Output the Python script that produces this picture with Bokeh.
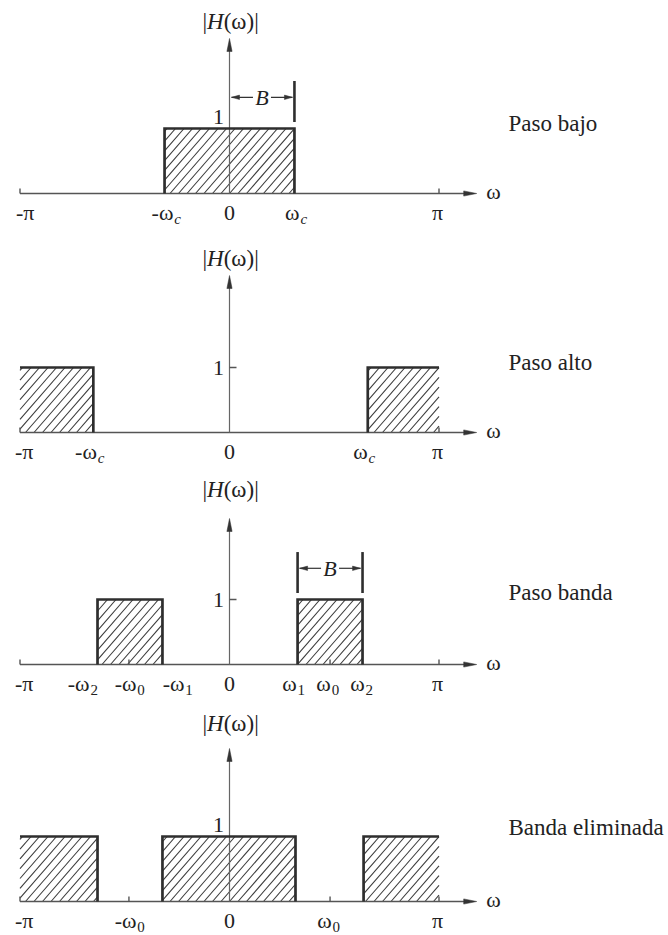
import math
from bokeh.plotting import figure
from bokeh.layouts import column
from bokeh.models import Range1d
from bokeh.core.properties import value
from bokeh.embed import file_html
from bokeh.resources import INLINE

# ---------------- data (frequencies in units of pi) ----------------
titles = ["Paso bajo", "Paso alto", "Paso banda", "Banda eliminada"]
gain = 1.0

lowpass_start = [-0.31]
lowpass_end = [0.31]
highpass_start = [-1.0, 0.66]
highpass_end = [-0.65, 1.0]
bandpass_start = [-0.63, 0.325]
bandpass_end = [-0.32, 0.635]
bandstop_start = [-1.0, -0.32, 0.64]
bandstop_end = [-0.63, 0.315, 1.0]

# tick label anchors, main text and subscripts
lp_label_x = [-0.975, -0.32, 0.0, 0.30, 0.993]
lp_label = ["-π", "-ω", "0", "ω", "π"]
lp_sub = ["", "c", "", "c", ""]
hp_label_x = [-0.98, -0.685, 0.0, 0.625, 0.993]
hp_label = ["-π", "-ω", "0", "ω", "π"]
hp_sub = ["", "c", "", "c", ""]
bp_label_x = [-0.98, -0.72, -0.496, -0.267, 0.0, 0.286, 0.449, 0.611, 0.993]
bp_label = ["-π", "-ω", "-ω", "-ω", "0", "ω", "ω", "ω", "π"]
bp_sub = ["", "2", "0", "1", "", "1", "0", "2", ""]
bs_label_x = [-0.98, -0.496, 0.0, 0.453, 0.993]
bs_label = ["-π", "-ω", "0", "ω", "π"]
bs_sub = ["", "0", "", "0", ""]

center_ticks = [[], [], [-0.48, 0.48], [-0.48, 0.48]]
band_marks = [[0.0, 0.31], [], [0.325, 0.635], []]   # B dimension (left, right)
band_bars = [[0.31], [], [0.325, 0.635], []]

# ---------------- layout constants ----------------
SX = 209.5   # px per pi
SY = 65.0    # px per unit gain
W = 667
X0 = 229     # px of omega = 0 inside each figure
tops = [0, 235, 468, 700]
heights = [235, 233, 232, 234]
axis_y = [193, 432, 664, 901]
yaxis_tip = [2.385, 2.415, 2.246, 2.354]
hlabel_y = [2.65, 2.68, 2.69, 2.74]
one_y = [1.17, 1.0, 1.0, 1.17]
one_tick = [False, True, True, False]
title_y = [1.08, 1.08, 1.11, 1.14]
HATCH_SP = 8.5      # px, horizontal spacing of hatch lines
HATCH_SLOPE = 1.15  # rise over run of the hatch lines

FONT = value("Liberation Serif")
TXT = "#222222"
EM = {"-": 0.333, "ω": 0.69, "π": 0.55, "0": 0.5}


def tw(s, size):
    return sum(EM.get(c, 0.5) for c in s) * size


def heads(specs):
    xs, ys = [], []
    for tx, ty, dx, dy, ln, hw in specs:
        bx = tx - dx * ln / SX
        by = ty - dy * ln / SY
        px, py = -dy, dx
        xs.append([tx, bx + px * hw / SX, bx - px * hw / SX])
        ys.append([ty, by + py * hw / SY, by - py * hw / SY])
    return xs, ys


def hatch_segments(starts, ends, top):
    x0s, y0s, x1s, y1s = [], [], [], []
    H = top * SY
    for a, b in zip(starts, ends):
        xa, xb = a * SX, b * SX
        c = math.floor((xa - H / HATCH_SLOPE) / HATCH_SP) * HATCH_SP
        while c <= xb:
            ylo = max(0.0, (xa - c) * HATCH_SLOPE)
            yhi = min(H, (xb - c) * HATCH_SLOPE)
            if yhi - ylo > 0.5:
                x0s.append((c + ylo / HATCH_SLOPE) / SX)
                y0s.append(ylo / SY)
                x1s.append((c + yhi / HATCH_SLOPE) / SX)
                y1s.append(yhi / SY)
            c += HATCH_SP
    return x0s, y0s, x1s, y1s


def panel(i, starts, ends, lab_x, lab, sub):
    T, h, A = tops[i], heights[i], axis_y[i]
    p = figure(width=W, height=h,
               x_range=Range1d(-X0 / SX, (W - X0) / SX),
               y_range=Range1d(-(T + h - A) / SY, (A - T) / SY),
               output_backend="svg", toolbar_location=None,
               x_axis_type=None, y_axis_type=None,
               min_border=0, min_border_left=0, min_border_right=0,
               min_border_top=0, min_border_bottom=0,
               outline_line_color=None, background_fill_color="white",
               border_fill_color="white")
    p.grid.visible = False

    # hatched pass bands
    hx0, hy0, hx1, hy1 = hatch_segments(starts, ends, gain)
    p.segment(x0=hx0, y0=hy0, x1=hx1, y1=hy1, line_color="#3a3a3a",
              line_width=1.1)

    # axes
    x_end = 1.18
    p.segment(x0=[-1.0], y0=[0], x1=[x_end - 10 / SX], y1=[0],
              line_color="#555555", line_width=1.6)
    p.segment(x0=[0], y0=[0], x1=[0], y1=[yaxis_tip[i] - 10 / SY],
              line_color="#666666", line_width=1.2)
    tk = [-1.0, 1.0] + center_ticks[i]
    p.segment(x0=tk, y0=[0] * len(tk), x1=tk, y1=[5 / SY] * len(tk),
              line_color="#555555", line_width=1.4)
    if one_tick[i]:
        p.segment(x0=[0], y0=[gain], x1=[7 / SX], y1=[gain],
                  line_color="#555555", line_width=1.4)

    # outlines of pass bands (not at the +-pi borders)
    oxs, oys = [], []
    for a, b in zip(starts, ends):
        xs, ys = [], []
        if a > -1.0:
            xs += [a]; ys += [0]
        xs += [a, b]; ys += [gain, gain]
        if b < 1.0:
            xs += [b]; ys += [0]
        oxs.append(xs); oys.append(ys)
    p.multi_line(xs=oxs, ys=oys, line_color="#2e2e2e", line_width=2.7,
                 line_join="miter")

    specs = [(x_end, 0, 1, 0, 13, 2.6), (0, yaxis_tip[i], 0, 1, 13, 2.6)]

    # bandwidth annotation
    if band_marks[i]:
        l, r = band_marks[i]
        m = (l + r) / 2
        ya = 1.48
        p.segment(x0=band_bars[i], y0=[1.1] * len(band_bars[i]),
                  x1=band_bars[i], y1=[1.73] * len(band_bars[i]),
                  line_color="#2e2e2e", line_width=2.6)
        p.segment(x0=[l + 2 / SX, m + 9 / SX], y0=[ya, ya],
                  x1=[m - 9 / SX, r - 2 / SX], y1=[ya, ya],
                  line_color="#333333", line_width=1.2)
        specs += [(l + 2 / SX, ya, -1, 0, 8, 2.2), (r - 2 / SX, ya, 1, 0, 8, 2.2)]
        p.text(x=[m], y=[ya], text=["B"], text_font=FONT, text_font_size="22px",
               text_font_style="italic", text_align="center",
               text_baseline="middle", text_color=TXT)

    hx, hy = heads(specs)
    p.patches(xs=hx, ys=hy, fill_color="#333333", line_color="#333333",
              line_width=0.5)

    # tick labels
    fs = 22
    p.text(x=lab_x, y=[0] * len(lab_x), text=lab, text_font=FONT,
           text_font_size=f"{fs}px", text_align="center",
           text_baseline="middle", y_offset=19, text_color=TXT)
    sx_off = [tw(t, fs) / 2 + 0.5 for t in lab]
    p.text(x=lab_x, y=[0] * len(lab_x), text=sub, text_font=FONT,
           text_font_size="15px",
           text_font_style="italic" if "c" in sub else "normal",
           text_align="left", text_baseline="middle",
           x_offset=sx_off, y_offset=25, text_color=TXT)

    # omega axis name
    p.text(x=[1.26], y=[0], text=["ω"], text_font=FONT,
           text_font_size="22px", text_align="center",
           text_baseline="middle", y_offset=-2, text_color=TXT)

    # |H(w)| label
    hs = 23
    left0 = -27
    p.text(x=[0, 0], y=[hlabel_y[i]] * 2, text=["|", "(ω)|"],
           text_font=FONT, text_font_size=f"{hs}px",
           text_align="left", text_baseline="middle",
           x_offset=[left0, left0 + 0.922 * hs], text_color=TXT)
    p.text(x=[0], y=[hlabel_y[i]], text=["H"], text_font=FONT,
           text_font_size=f"{hs}px", text_font_style="italic",
           text_align="left", text_baseline="middle",
           x_offset=[left0 + 0.2 * hs], text_color=TXT)

    # "1" label
    p.text(x=[-11 / SX], y=[one_y[i]], text=["1"], text_font=FONT,
           text_font_size="22px", text_align="center",
           text_baseline="middle", text_color=TXT)

    # filter name
    p.text(x=[(508 - X0) / SX], y=[title_y[i]], text=[titles[i]],
           text_font=FONT, text_font_size="23px", text_align="left",
           text_baseline="middle", text_color=TXT)
    return p


p1 = panel(0, lowpass_start, lowpass_end, lp_label_x, lp_label, lp_sub)
p2 = panel(1, highpass_start, highpass_end, hp_label_x, hp_label, hp_sub)
p3 = panel(2, bandpass_start, bandpass_end, bp_label_x, bp_label, bp_sub)
p4 = panel(3, bandstop_start, bandstop_end, bs_label_x, bs_label, bs_sub)

layout = column(p1, p2, p3, p4, spacing=0)
open("out.html", "w").write(file_html(layout, INLINE))
